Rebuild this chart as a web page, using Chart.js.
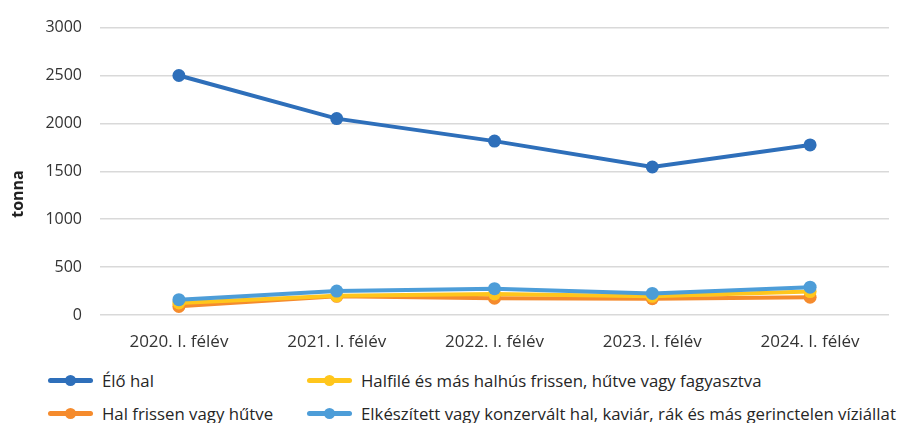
<!DOCTYPE html>
<html>
<head>
<meta charset="utf-8">
<script src="https://cdn.jsdelivr.net/npm/chart.js@4"></script>
<style>
  body { margin: 0; background: #fff; font-family: "Open Sans", sans-serif; }
  #wrap { position: relative; width: 901px; height: 423px; overflow: hidden; }
  #box { position: absolute; left: 0; top: 0; width: 901px; height: 360px; }
  .leg { position: absolute; display: flex; align-items: center; font-size: 16.8px; color: #262626; white-space: nowrap; height: 24px; }
  .leg .ln { position: relative; width: 45px; height: 5px; border-radius: 3px; margin-right: 9px; }
  .leg .ln i { position: absolute; left: 17px; top: -3px; width: 11px; height: 11px; border-radius: 50%; }
</style>
</head>
<body>
<div id="wrap">
  <div id="box"><canvas id="grafico"></canvas></div>
  <div id="legenda"></div>
</div>
<script>
const kategoriak = ["2020. I. félév", "2021. I. félév", "2022. I. félév", "2023. I. félév", "2024. I. félév"];
const eloHal = [2500, 2050, 1815, 1545, 1775];
const halFrissen = [90, 195, 175, 170, 185];
const halfile = [125, 200, 220, 195, 245];
const elkeszitett = [160, 250, 275, 225, 290];
const yTicks = [0, 500, 1000, 1500, 2000, 2500, 3000];
const yCim = "tonna";

const sorozatok = [
  { label: "Élő hal", data: eloHal, color: "#2E6FBA", order: 0 },
  { label: "Hal frissen vagy hűtve", data: halFrissen, color: "#F58B2D", order: 3 },
  { label: "Halfilé és más halhús frissen, hűtve vagy fagyasztva", data: halfile, color: "#FFC61C", order: 2 },
  { label: "Elkészített vagy konzervált hal, kaviár, rák és más gerinctelen víziállat", data: elkeszitett, color: "#4D9DD8", order: 1 }
];

// y axis title, drawn a bit below the middle like in the original
const tengelyCim = {
  id: 'tengelyCim',
  afterDraw(chart) {
    const c = chart.ctx;
    c.save();
    c.translate(18, 194);
    c.rotate(-Math.PI / 2);
    c.font = 'bold 16px "Open Sans"';
    c.fillStyle = '#222';
    c.textAlign = 'center';
    c.textBaseline = 'middle';
    c.fillText(yCim, 0, 0);
    c.restore();
  }
};

const ctx = document.getElementById('grafico').getContext('2d');

new Chart(ctx, {
  type: 'line',
  data: {
    labels: kategoriak,
    datasets: sorozatok.map(s => ({
      label: s.label,
      data: s.data,
      borderColor: s.color,
      backgroundColor: s.color,
      borderWidth: 4,
      pointRadius: 6.5,
      pointHoverRadius: 6.5,
      pointBorderWidth: 0,
      tension: 0,
      order: s.order
    }))
  },
  options: {
    responsive: true,
    maintainAspectRatio: false,
    animation: false,
    layout: { padding: { top: 25, right: 12, left: 0, bottom: 0 } },
    plugins: { legend: { display: false }, tooltip: { enabled: false } },
    scales: {
      x: {
        offset: true,
        grid: { display: false },
        border: { display: false },
        ticks: { color: '#333', font: { family: 'Open Sans', size: 17 }, padding: 9, maxRotation: 0 },
        afterFit: s => { s.height = 45; }
      },
      y: {
        min: 0,
        max: 3000,
        afterBuildTicks: s => { s.ticks = yTicks.map(v => ({ value: v })); },
        grid: { color: '#D9D9D9', lineWidth: 1.5, drawTicks: false },
        border: { display: false },
        ticks: { color: '#333', font: { family: 'Open Sans', size: 16 }, padding: 18, callback: v => String(v) },
        afterFit: s => { s.width = 100; }
      }
    }
  },
  plugins: [tengelyCim]
});

// legend in two columns like the original
const helyek = [
  { i: 0, x: 48, y: 380 },
  { i: 2, x: 307, y: 380 },
  { i: 1, x: 48, y: 413 },
  { i: 3, x: 307, y: 413 }
];
const leg = document.getElementById('legenda');
helyek.forEach(h => {
  const s = sorozatok[h.i];
  const d = document.createElement('div');
  d.className = 'leg';
  d.style.left = h.x + 'px';
  d.style.top = (h.y - 12) + 'px';
  d.innerHTML = '<span class="ln" style="background:' + s.color + '"><i style="background:' + s.color + '"></i></span>' + s.label;
  leg.appendChild(d);
});
</script>
</body>
</html>
